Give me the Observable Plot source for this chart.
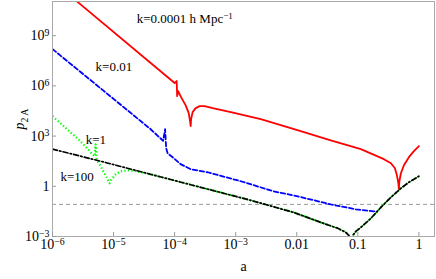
<!DOCTYPE html>
<html><head><meta charset="utf-8">
<script src="https://cdn.jsdelivr.net/npm/d3@7"></script>
<script src="https://cdn.jsdelivr.net/npm/@observablehq/plot@0.6"></script>
<style>body{margin:0;background:#fff} svg{display:block}</style>
</head><body><div id="chart"></div>
<script>
const xTicks = [1e-6, 1e-5, 1e-4, 1e-3, 0.01, 0.1, 1];
const xTickLabels = ["10^-6", "10^-5", "10^-4", "10^-3", "0.01", "0.1", "1"];
const yTicks = [1e-3, 1, 1e3, 1e6, 1e9];
const yTickLabels = ["10^-3", "1", "10^3", "10^6", "10^9"];

// k = 0.0001 h/Mpc (red, solid)
const redA = [1e-6, 2.57e-6, 1.0e-4, 1.08e-4, 1.10e-4, 1.14e-4, 1.30e-4, 1.51e-4, 1.70e-4, 1.79e-4, 1.83e-4, 1.86e-4, 1.97e-4, 2.21e-4, 2.57e-4, 3.10e-4, 4.2e-4, 8.3e-4, 2.57e-3, 1.16e-2, 3.6e-2, 0.112, 0.267, 0.348, 0.405, 0.436, 0.461, 0.470, 0.479, 0.507, 0.568, 0.685, 0.828, 1];
const redP = [1.9e12, 1.05e11, 1.48e6, 1.95e6, 2.45e5, 4.9e5, 1.86e5, 7.1e4, 2.34e4, 7.8e3, 3.9e3, 1.02e4, 2.7e4, 4.7e4, 6.2e4, 6.2e4, 4.7e4, 2.7e4, 1.02e4, 1.95e3, 5.6e2, 166, 41.7, 24, 12, 4.6, 1.5, 0.66, 2.0, 6.0, 18.2, 55, 126, 251];

// k = 0.01 (blue, dashed)
const blueA = [1e-6, 4.05e-5, 6.47e-5, 6.98e-5, 7.26e-5, 7.67e-5, 9.64e-5, 1.25e-4, 1.83e-4, 3.48e-4, 1.21e-3, 4.2e-3, 1.04e-2, 3.6e-2, 9.3e-2, 0.183, 0.205];
const blueP = [1.58e8, 2.57e3, 525, 2.57e3, 190, 95, 48, 21, 10.5, 6.9, 2.0, 0.5, 0.25, 0.083, 0.042, 0.032, 0.030];

// k = 1 (green, dotted)
const greenA = [1e-6, 2.88e-6, 4.36e-6, 4.89e-6, 5.07e-6, 5.26e-6, 6.12e-6, 7.67e-6, 8.59e-6, 9.27e-6, 1.08e-5, 1.30e-5, 1.70e-5, 2.30e-5, 3.35e-5, 4.05e-5, 2.67e-4, 1.76e-3, 8.9e-3, 2.77e-2, 4.7e-2, 6.35e-2, 7.1e-2, 7.67e-2, 8.28e-2, 9.27e-2, 0.112, 0.163, 0.238, 0.348, 0.507, 0.685, 1];
const greenP = [1.55e4, 490, 95, 63, 324, 42, 15.8, 3.5, 1.5, 2.6, 5.2, 7.9, 9.1, 7.9, 6.0, 5.2, 0.87, 0.145, 0.0275, 6.0e-3, 3.1e-3, 1.78e-3, 1.17e-3, 5e-4, 1.17e-3, 2.0e-3, 3.5e-3, 1.2e-2, 5.5e-2, 0.22, 0.76, 1.74, 4.0];

// k = 100 (black, dash-dot)
const blackA = [1e-6, 6.12e-6, 4.05e-5, 2.67e-4, 1.76e-3, 8.9e-3, 2.77e-2, 4.7e-2, 6.35e-2, 7.1e-2, 7.67e-2, 8.28e-2, 9.27e-2, 0.112, 0.163, 0.238, 0.348, 0.507, 0.685, 1];
const blackP = [166, 31.6, 5.2, 0.87, 0.145, 0.0275, 6.0e-3, 3.1e-3, 1.78e-3, 1.17e-3, 5e-4, 1.17e-3, 2.0e-3, 3.5e-3, 1.2e-2, 5.5e-2, 0.22, 0.76, 1.74, 4.0];

const refLevel = [0.083];

const noteText = ["k=0.0001 h Mpc^-1", "k=0.01", "k=1", "k=100"];
const noteA = [2.4e-5, 5.07e-6, 3.5e-6, 1.35e-6];
const noteP = [1e10, 1.3e7, 5.6e2, 3.5];

const pts = (A, P) => A.map((a, i) => ({a, p: P[i]}));
const notes = noteText.map((t, i) => ({t, a: noteA[i], p: noteP[i]}));

const chart = Plot.plot({
  width: 436, height: 279,
  marginLeft: 52, marginRight: 2, marginTop: 1, marginBottom: 43,
  style: {fontFamily: "'Liberation Serif', 'Times New Roman', serif", fontSize: "14px", background: "#fff", color: "#000"},
  x: {type: "log", domain: [1e-6, 1.8]},
  y: {type: "log", domain: [1e-3, 1.1e11]},
  marks: [
    Plot.ruleY(refLevel, {stroke: "#999", strokeDasharray: "4,3", strokeWidth: 1}),
    Plot.line(pts(redA, redP), {x: "a", y: "p", stroke: "#ff0000", strokeWidth: 1.8, clip: true}),
    Plot.line(pts(blueA, blueP), {x: "a", y: "p", stroke: "#0000ff", strokeWidth: 1.8, strokeDasharray: "4.5,2.5", clip: true}),
    Plot.line(pts(greenA, greenP), {x: "a", y: "p", stroke: "#00ff00", strokeWidth: 2.2, strokeDasharray: "1.3,2.2", strokeLinecap: "butt", clip: true}),
    Plot.line(pts(blackA, blackP), {x: "a", y: "p", stroke: "#000", strokeWidth: 1.7, strokeDasharray: "5,2.2,1.5,2.2", clip: true}),
    Plot.text(notes, {x: "a", y: "p", text: "t", textAnchor: "start", fontSize: 13, fill: "#000"}),
    Plot.frame({stroke: "#aaa"}),
    Plot.axisX({ticks: xTicks, tickFormat: d => xTickLabels[xTicks.indexOf(d)], tickSize: -4, tickPadding: 7, stroke: "#999",
      label: "a", labelAnchor: "center", labelArrow: "none", labelOffset: 34}),
    Plot.axisY({ticks: yTicks, tickFormat: d => yTickLabels[yTicks.indexOf(d)], tickSize: -4, tickPadding: 7, stroke: "#999",
      label: "p2A", labelAnchor: "center", labelArrow: "none", labelOffset: 38})
  ]
});
document.getElementById("chart").appendChild(chart);

// superscripts written as base^exp
d3.select(chart).selectAll("text").each(function() {
  const t = this.textContent;
  if (this.querySelector("tspan")) return;
  const i = t.indexOf("^");
  if (i < 0) return;
  const base = t.slice(0, i), exp = t.slice(i + 1).replace("-", "\u2212");
  const s = d3.select(this); s.text("");
  s.append("tspan").text(base);
  s.append("tspan").attr("dy", "-0.45em").attr("font-size", "0.7em").text(exp);
});
// y label p_{2A}
d3.select(chart).selectAll('g[aria-label="y-axis label"] text').each(function() {
  const s = d3.select(this); s.text("");
  s.append("tspan").attr("font-style", "italic").text("p");
  s.append("tspan").attr("dy", "0.35em").attr("font-size", "0.7em").text("2 A");
});
</script></body></html>
